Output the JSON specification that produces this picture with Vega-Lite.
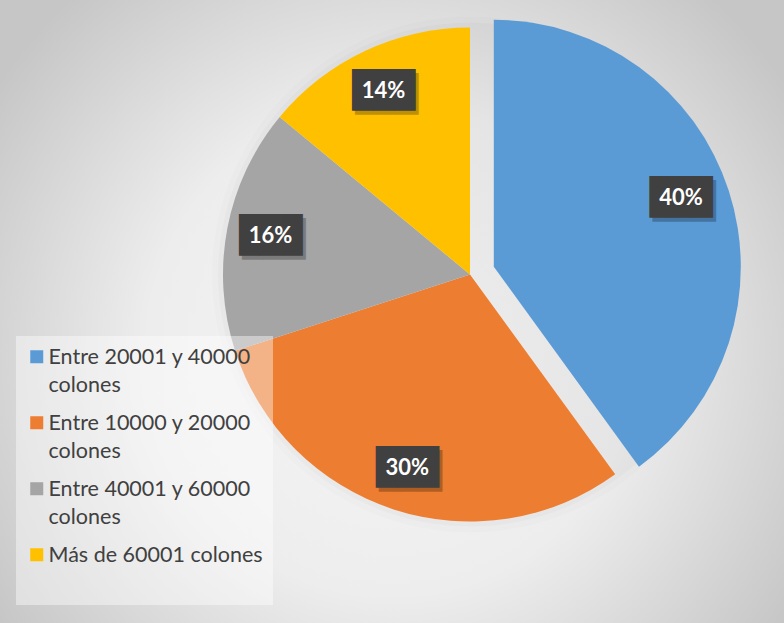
{
  "$schema": "https://vega.github.io/schema/vega-lite/v6.json",
  "width": 784,
  "height": 623,
  "autosize": {"type": "fit", "contains": "padding"},
  "padding": 0,
  "background": "#cccccc",
  "config": {"view": {"stroke": null}},
  "datasets": {
    "slices": [
      {"cat": "Entre 20001 y 40000 colones", "value": 40, "ord": 1, "pct": "40%"},
      {"cat": "Entre 10000 y 20000 colones", "value": 30, "ord": 2, "pct": "30%"},
      {"cat": "Entre 40001 y 60000 colones", "value": 16, "ord": 3, "pct": "16%"},
      {"cat": "Más de 60001 colones", "value": 14, "ord": 4, "pct": "14%"}
    ]
  },
  "data": {"name": "slices"},
  "layer": [
    {
      "data": {"values": [{}]},
      "mark": {
        "type": "rect",
        "stroke": null,
        "fill": {
          "gradient": "radial",
          "x1": 0.5, "y1": 0.55, "r1": 0,
          "x2": 0.5, "y2": 0.55, "r2": 0.78,
          "stops": [
            {"offset": 0, "color": "#f6f6f6"},
            {"offset": 0.4, "color": "#ededed"},
            {"offset": 0.78, "color": "#c6c6c6"}
          ]
        }
      },
      "encoding": {}
    },
    {
      "mark": {"type": "arc", "outerRadius": 258, "xOffset": 78, "yOffset": -37, "color": "#000000", "opacity": 0.012},
      "encoding": {
        "theta": {"field": "value", "type": "quantitative", "stack": true},
        "order": {"field": "ord"},
        "detail": {"field": "cat"}
      }
    },
    {
      "mark": {"type": "arc", "outerRadius": 252, "xOffset": 78, "yOffset": -37, "color": "#000000", "opacity": 0.018},
      "encoding": {
        "theta": {"field": "value", "type": "quantitative", "stack": true},
        "order": {"field": "ord"},
        "detail": {"field": "cat"}
      }
    },
    {
      "mark": {"type": "arc", "outerRadius": 247, "xOffset": 78, "yOffset": -37},
      "encoding": {
        "theta": {"field": "value", "type": "quantitative", "stack": true},
        "order": {"field": "ord"},
        "detail": {"field": "cat"},
        "color": {
          "field": "cat",
          "type": "nominal",
          "scale": {
            "domain": ["Entre 20001 y 40000 colones", "Entre 10000 y 20000 colones", "Entre 40001 y 60000 colones", "Más de 60001 colones"],
            "range": ["#5B9BD5", "#ED7D31", "#A5A5A5", "#FFC000"]
          },
          "legend": {
            "orient": "none",
            "legendX": 16,
            "legendY": 336,
            "direction": "vertical",
            "columns": 1,
            "title": null,
            "symbolType": "square",
            "symbolSize": 169,
            "symbolStrokeWidth": 0,
            "symbolOpacity": 1,
            "labelFont": "Lato",
            "labelFontSize": 21.5,
            "labelColor": "#404040",
            "labelOffset": 1,
            "labelLimit": 400,
            "labelBaseline": "top",
            "padding": 10,
            "rowPadding": 15,
            "fillColor": "rgba(255,255,255,0.42)",
            "labelExpr": "datum.label == 'Más de 60001 colones' ? [datum.label, ' '] : [replace(datum.label, ' colones', ''), 'colones']",
            "encode": {"labels": {"update": {"lineHeight": {"value": 28}, "dy": {"value": -10}}}}
          }
        },
        "opacity": {"condition": {"test": "datum.ord === 1", "value": 0}, "value": 1}
      }
    },
    {
      "mark": {"type": "arc", "outerRadius": 247, "xOffset": 101.8, "yOffset": -44.7},
      "encoding": {
        "theta": {"field": "value", "type": "quantitative", "stack": true},
        "order": {"field": "ord"},
        "detail": {"field": "cat"},
        "color": {"field": "cat", "type": "nominal", "legend": null},
        "opacity": {"condition": {"test": "datum.ord === 1", "value": 1}, "value": 0}
      }
    },
    {
      "mark": {"type": "text", "radius": 203, "xOffset": 78, "yOffset": -37, "dx": 3, "dy": 4, "text": "███", "font": "DejaVu Sans Mono", "fontSize": 35, "color": "#000000", "align": "center", "baseline": "middle"},
      "encoding": {
        "theta": {"field": "value", "type": "quantitative", "stack": true},
        "order": {"field": "ord"},
        "detail": {"field": "cat"},
        "opacity": {"condition": {"test": "datum.ord === 1", "value": 0}, "value": 0.25}
      }
    },
    {
      "mark": {"type": "text", "radius": 200, "xOffset": 101.8, "yOffset": -44.7, "dx": 0, "dy": -3, "text": "███", "font": "DejaVu Sans Mono", "fontSize": 35, "color": "#000000", "align": "center", "baseline": "middle"},
      "encoding": {
        "theta": {"field": "value", "type": "quantitative", "stack": true},
        "order": {"field": "ord"},
        "detail": {"field": "cat"},
        "opacity": {"condition": {"test": "datum.ord === 1", "value": 0.25}, "value": 0}
      }
    },
    {
      "mark": {"type": "text", "radius": 203, "xOffset": 78, "yOffset": -37, "text": "███", "font": "DejaVu Sans Mono", "fontSize": 35, "color": "#404040", "align": "center", "baseline": "middle"},
      "encoding": {
        "theta": {"field": "value", "type": "quantitative", "stack": true},
        "order": {"field": "ord"},
        "detail": {"field": "cat"},
        "opacity": {"condition": {"test": "datum.ord === 1", "value": 0}, "value": 1}
      }
    },
    {
      "mark": {"type": "text", "radius": 200, "xOffset": 101.8, "yOffset": -44.7, "dx": -3, "dy": -7, "text": "███", "font": "DejaVu Sans Mono", "fontSize": 35, "color": "#404040", "align": "center", "baseline": "middle"},
      "encoding": {
        "theta": {"field": "value", "type": "quantitative", "stack": true},
        "order": {"field": "ord"},
        "detail": {"field": "cat"},
        "opacity": {"condition": {"test": "datum.ord === 1", "value": 1}, "value": 0}
      }
    },
    {
      "mark": {"type": "text", "radius": 203, "xOffset": 78, "yOffset": -37, "font": "Lato", "fontWeight": "bold", "fontSize": 22, "color": "#ffffff", "align": "center", "baseline": "middle"},
      "encoding": {
        "theta": {"field": "value", "type": "quantitative", "stack": true},
        "order": {"field": "ord"},
        "detail": {"field": "cat"},
        "text": {"field": "pct"},
        "opacity": {"condition": {"test": "datum.ord === 1", "value": 0}, "value": 1}
      }
    },
    {
      "mark": {"type": "text", "radius": 200, "xOffset": 101.8, "yOffset": -44.7, "dx": -3, "dy": -7, "font": "Lato", "fontWeight": "bold", "fontSize": 22, "color": "#ffffff", "align": "center", "baseline": "middle"},
      "encoding": {
        "theta": {"field": "value", "type": "quantitative", "stack": true},
        "order": {"field": "ord"},
        "detail": {"field": "cat"},
        "text": {"field": "pct"},
        "opacity": {"condition": {"test": "datum.ord === 1", "value": 1}, "value": 0}
      }
    }
  ]
}
